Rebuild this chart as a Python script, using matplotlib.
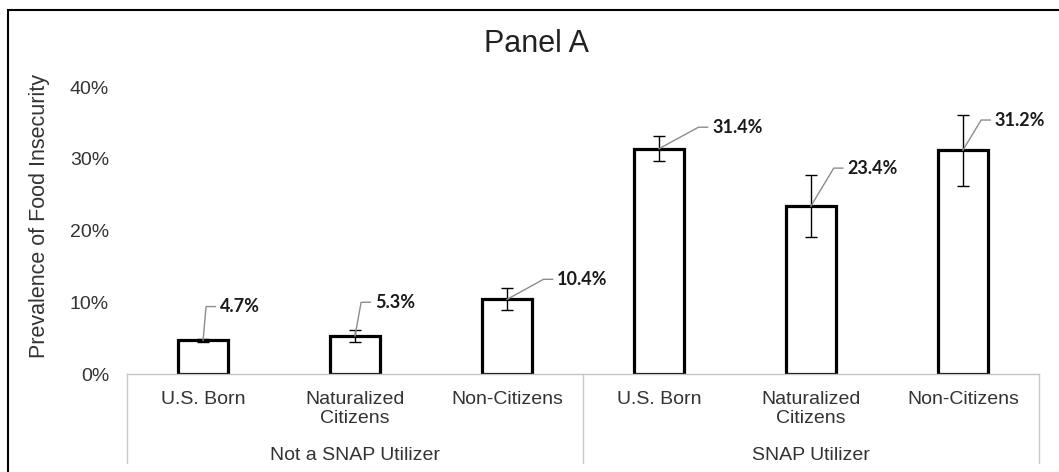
import matplotlib
matplotlib.use("Agg")
import matplotlib.pyplot as plt
from matplotlib.patches import Rectangle
from matplotlib.transforms import blended_transform_factory


# Chart data (percent)
categories = ["U.S. Born", "Naturalized\nCitizens", "Non-Citizens",
              "U.S. Born", "Naturalized\nCitizens", "Non-Citizens"]
groups = ["Not a SNAP Utilizer", "SNAP Utilizer"]
prevalence = [4.7, 5.3, 10.4, 31.4, 23.4, 31.2]
err_low = [0.2, 0.8, 1.5, 1.7, 4.3, 5.0]
err_high = [0.2, 0.9, 1.6, 1.8, 4.3, 4.9]
yticks = [0, 10, 20, 30, 40]

# Label placement (layout only): text left edge in category units, text height in percent
label_x = [0.11, 1.13, 2.33, 3.35, 4.24, 5.21]
label_y = [9.4, 10.0, 13.2, 34.4, 28.7, 35.4]

plt.rcParams["font.family"] = ["Liberation Sans", "DejaVu Sans"]

fig = plt.figure(figsize=(10.59, 4.72), dpi=100)
ax = fig.add_axes([0.120, 0.2076, 0.861, 0.608])

x = list(range(len(prevalence)))
ax.bar(x, prevalence, width=0.33, facecolor="white", edgecolor="black",
       linewidth=2.3, zorder=2)
ax.errorbar(x, prevalence, yerr=[err_low, err_high], fmt="none", ecolor="black",
            elinewidth=1.0, capsize=4, capthick=1.0, zorder=3)

# Data labels with gray leader lines
for i, v in enumerate(prevalence):
    tx = label_x[i]
    ty = label_y[i]
    ax.plot([i, tx - 0.09, tx - 0.03], [v, ty, ty], color="#8c8c8c", lw=1.0,
            zorder=4, clip_on=False)
    ax.text(tx, ty, f"{v:.1f}%", ha="left", va="center", fontsize=13,
            fontweight="bold", family=["Lato", "DejaVu Sans"], color="#1a1a1a",
            clip_on=False)

ax.set_xlim(-0.5, len(prevalence) - 0.5)
ax.set_ylim(0, 40)
ax.set_yticks(yticks)
ax.set_yticklabels([f"{t}%" for t in yticks], fontsize=14, color="#333333")
ax.tick_params(axis="y", length=0, pad=13)
ax.set_xticks(x)
ax.set_xticklabels(categories, fontsize=14, color="#333333", linespacing=1.15)
ax.tick_params(axis="x", length=0, pad=12)

for s in ["left", "top", "right"]:
    ax.spines[s].set_visible(False)
ax.spines["bottom"].set_color("#c4c4c4")
ax.spines["bottom"].set_linewidth(1.0)

# Group separators and group labels below the axis
trans = blended_transform_factory(ax.transData, ax.transAxes)
for sx in [-0.5, 2.5, 5.5]:
    ax.plot([sx, sx], [0, -0.31], color="#c8c8c8", lw=1.0, transform=trans,
            clip_on=False)
for g, name in enumerate(groups):
    ax.text(g * 3 + 1, -0.285, name, ha="center", va="center", fontsize=14,
            color="#333333", transform=trans)

fig.text(536 / 1059, 1 - 44 / 472, "Panel A", ha="center", va="center",
         fontsize=22, color="#222222")
fig.text(40 / 1059, 1 - 216 / 472, "Prevalence of Food Insecurity", ha="center",
         va="center", rotation=90, fontsize=15.5, color="#333333")

# Outer frame (only top and left edges fall inside the picture)
fig.add_artist(Rectangle((8 / 1059, -0.2), 1.2, 1.2 - 10 / 472,
                         transform=fig.transFigure, fill=False,
                         edgecolor="black", lw=1.5))

fig.savefig("out.png", dpi=100)
